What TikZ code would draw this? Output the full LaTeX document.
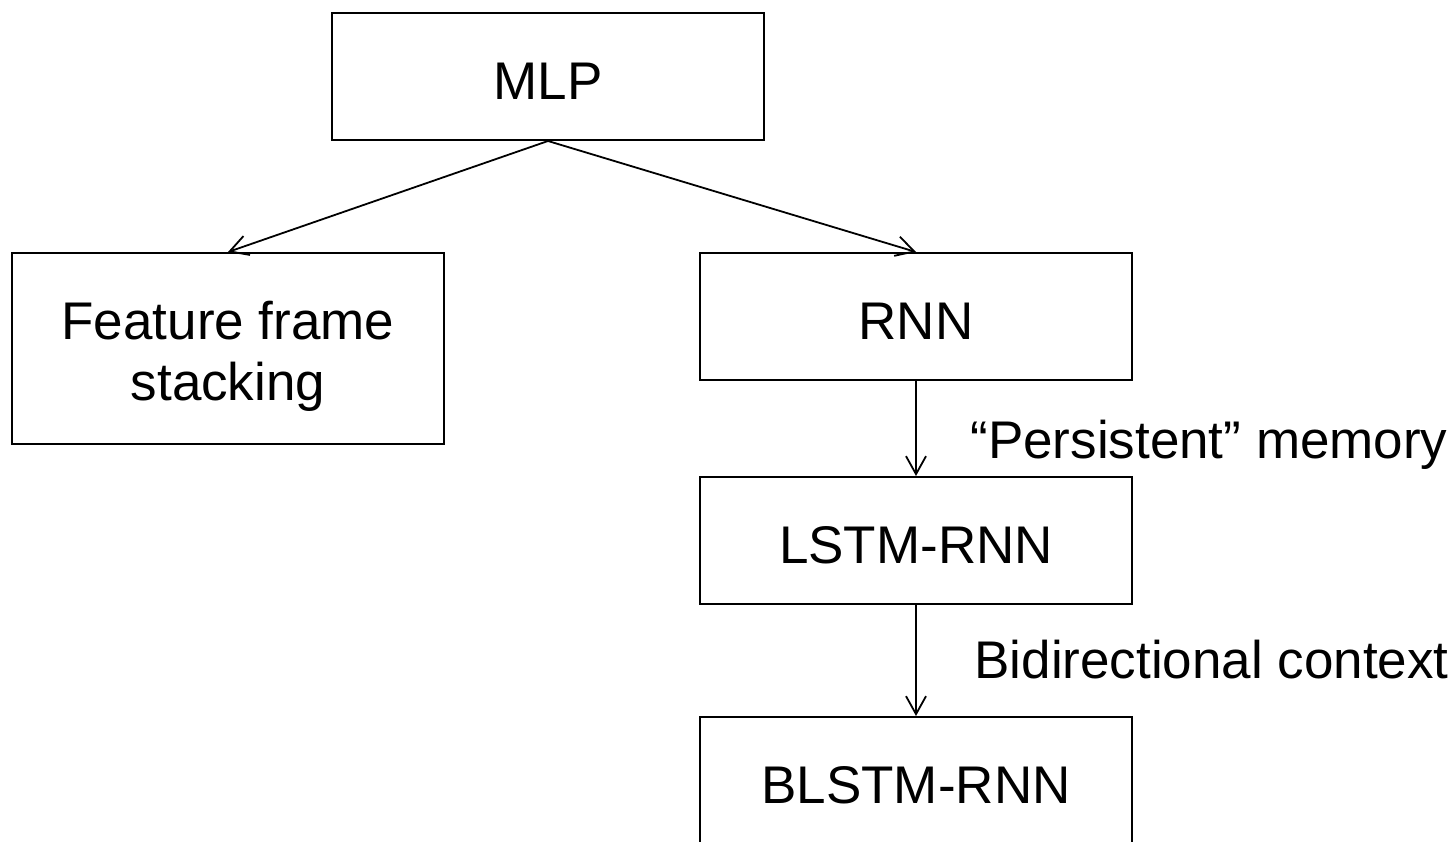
\documentclass[tikz,border=0pt]{standalone}
\usepackage{fontspec}
\setmainfont{Liberation Sans}
\usetikzlibrary{arrows.meta}
\begin{document}
\begin{tikzpicture}[x=0.5pt,y=-0.5pt,
  box/.style={draw=black,line width=1pt,minimum width=216pt,minimum height=63.5pt,
    inner sep=0pt,align=center,text height=23pt,text depth=0pt,
    font=\fontsize{26.5}{30.5}\selectfont},
  tallbox/.style={box,minimum height=95.5pt,text height=57pt,text depth=5.5pt},
  link/.style={line width=0.9pt,-{Straight Barb[length=9pt,width=10pt,line width=0.9pt]}},
  note/.style={anchor=base west,inner sep=0pt,font=\fontsize{26.5}{30.5}\selectfont}]
  \useasboundingbox (0,0) rectangle (1454,841);
  \clip (0,0) rectangle (1454,841);
  \node[box] (mlp) at (548,76.5) {MLP};
  \node[tallbox] (ffs) at (228,348.5) {Feature frame\\stacking};
  \node[box] (rnn) at (916,316.5) {RNN};
  \node[box] (lstm) at (916,540.5) {LSTM-RNN};
  \node[box] (blstm) at (916,780.5) {BLSTM-RNN};
  \draw[link] (mlp.south) -- (ffs.north);
  \draw[link] (mlp.south) -- (rnn.north);
  \draw[link] (rnn.south) -- (lstm.north);
  \draw[link] (lstm.south) -- (blstm.north);
  \node[note] (mem) at (970,458) {“Persistent” memory};
  \node[note] (ctx) at (974,678) {Bidirectional context};
\end{tikzpicture}
\end{document}
